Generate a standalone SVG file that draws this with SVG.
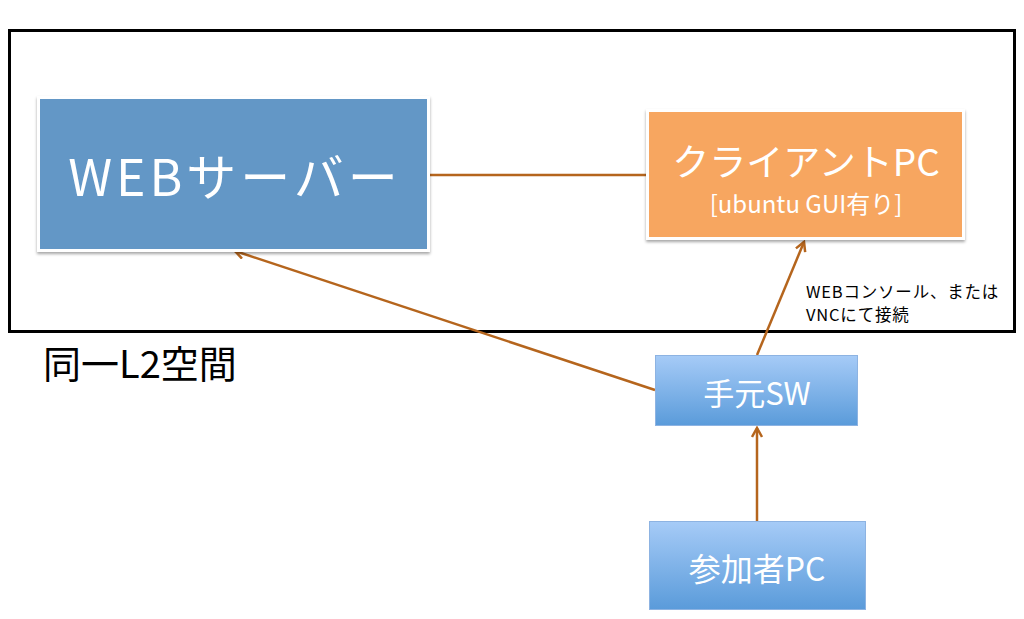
<svg xmlns="http://www.w3.org/2000/svg" width="1024" height="619" viewBox="0 0 1024 619">
<style>
.t{font-family:"Noto Sans CJK JP","Noto Sans",sans-serif;fill:#fff;text-anchor:middle}
.k{font-family:"Noto Sans CJK JP","Noto Sans",sans-serif;fill:#000}
.c{stroke:#B5651D;stroke-width:2.5;fill:none}
.box{stroke:#fff;stroke-width:3}
</style>
<defs>
<filter id="sh" x="-10%" y="-10%" width="120%" height="130%">
<feDropShadow dx="0" dy="2" stdDeviation="1.5" flood-color="#000" flood-opacity="0.35"/>
</filter>
<linearGradient id="bg" x1="0" y1="0" x2="0" y2="1">
<stop offset="0" stop-color="#A6CBF7"/>
<stop offset="1" stop-color="#5A9BDA"/>
</linearGradient>
<marker id="ar" viewBox="0 0 12 12" refX="10" refY="6" markerWidth="12" markerHeight="12" markerUnits="userSpaceOnUse" orient="auto">
<path d="M1,1 L10,6 L1,11" fill="none" stroke="#B5651D" stroke-width="2.5"/>
</marker>
</defs>
<rect x="9.5" y="30.5" width="1005" height="301" fill="none" stroke="#000" stroke-width="3"/>
<g id="connectors">
<line class="c" x1="430" y1="175" x2="648" y2="175"/>
<line class="c" x1="757" y1="355" x2="804" y2="242" marker-end="url(#ar)"/>
<line class="c" x1="655" y1="390" x2="235" y2="251" marker-end="url(#ar)"/>
<line class="c" x1="757" y1="521" x2="757" y2="428" stroke-width="3.5" marker-end="url(#ar)"/>
</g>
<g id="web-server">
<rect class="box" x="38.5" y="97.5" width="390" height="153" fill="#6497C6" filter="url(#sh)"/>
<text class="t" x="235" y="196" font-size="50" letter-spacing="4">WEBサーバー</text>
</g>
<g id="client-pc">
<rect class="box" x="647.5" y="110.5" width="316" height="128" fill="#F7A660" filter="url(#sh)"/>
<text class="t" x="806" y="176" font-size="37">クライアントPC</text>
<text class="t" x="806" y="213" font-size="24">[ubuntu GUI有り]</text>
</g>
<g id="note">
<text class="k" x="806" y="298" font-size="16.5" letter-spacing="0.8">WEBコンソール、または</text>
<text class="k" x="806" y="321" font-size="16.5" letter-spacing="0.8">VNCにて接続</text>
</g>
<g id="l2-label">
<text class="k" x="43" y="378" font-size="38">同一L2空間</text>
</g>
<g id="local-sw">
<rect x="655.5" y="355.5" width="202" height="70" fill="url(#bg)" stroke="#8DB3E2" stroke-width="1"/>
<text class="t" x="757" y="405" font-size="31">手元SW</text>
</g>
<g id="participant-pc">
<rect x="649.5" y="521.5" width="216" height="88" fill="url(#bg)" stroke="#8DB3E2" stroke-width="1"/>
<text class="t" x="757" y="581" font-size="32">参加者PC</text>
</g>
</svg>
